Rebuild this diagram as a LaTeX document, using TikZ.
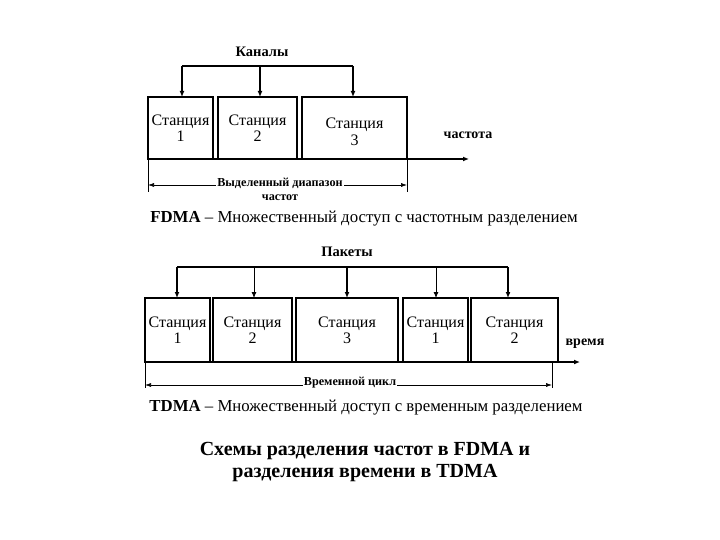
\documentclass[tikz,border=0pt]{standalone}
\usepackage{fontspec}
\setmainfont{Liberation Serif}
\usetikzlibrary{arrows.meta}
\begin{document}
\begin{tikzpicture}[x=1pt,y=-1pt,
  box/.style={draw,line width=1.6pt,inner sep=0pt,outer sep=0pt,align=center,font=\fontsize{16}{16}\selectfont},
  lbl/.style={font=\bfseries\fontsize{14.5}{16}\selectfont,inner sep=1pt},
  axl/.style={font=\bfseries\fontsize{14}{16}\selectfont,inner sep=1pt},
  rlbl/.style={fill=white,align=center,font=\bfseries\fontsize{12.2}{14}\selectfont,inner sep=1pt},
  arr/.style={line width=1.2pt,-{Latex[length=6pt,width=5pt]}},
  base/.style={line width=1.6pt,-{Latex[length=6pt,width=5pt]}},
  rng/.style={line width=0.6pt,{Latex[length=6pt,width=4pt]}-{Latex[length=6pt,width=4pt]}},
  tick/.style={line width=0.6pt}]
\useasboundingbox (0,0) rectangle (720,540);
% ---------- FDMA ----------
\node[lbl] (kan) at (262,52) {Каналы};
\node[box,minimum width=65pt,minimum height=62pt] (f1) at (180.5,128) {Станция\\1};
\node[box,minimum width=79pt,minimum height=62pt] (f2) at (257.5,128) {Станция\\2};
\node[box,minimum width=105pt,minimum height=62pt] (f3) at (354.5,128) {};
\node[align=center,font=\fontsize{16}{17}\selectfont,inner sep=0pt] (f3t) at (354.5,132) {Станция\\3};
\coordinate (k1) at (182,66);
\coordinate (k3) at (353,66);
\coordinate (k2) at (260,66);
\draw[line width=1.2pt] (k1) -- (k3);
\draw[arr] (k1) -- (k1 |- f1.north);
\draw[arr] (k2) -- (k2 |- f2.north);
\draw[arr] (k3) -- (k3 |- f3.north);
\coordinate (fend) at (469,159);
\draw[base] (f1.south west) -- (fend);
\node[axl] (chast) at (468,135) {частота};
\coordinate (fl) at (148,192);
\coordinate (fr) at (407,192);
\draw[tick] (f1.south west) -- (fl);
\draw[tick] (f3.south east) -- (fr);
\draw[rng] (148,185) -- (407,185);
\node[rlbl,anchor=north] (vyd) at (280,177) {Выделенный диапазон\\частот};
\node[font=\fontsize{16.8}{18}\selectfont] (fcap) at (364,219) {\textbf{FDMA} – Множественный доступ с частотным разделением};
% ---------- TDMA ----------
\node[lbl] (pak) at (347,252) {Пакеты};
\node[box,minimum width=65pt,minimum height=64pt] (t1) at (177.5,330) {Станция\\1};
\node[box,minimum width=79pt,minimum height=64pt] (t2) at (252.5,330) {Станция\\2};
\node[box,minimum width=102pt,minimum height=64pt] (t3) at (347,330) {Станция\\3};
\node[box,minimum width=65pt,minimum height=64pt] (t4) at (435.5,330) {Станция\\1};
\node[box,minimum width=87pt,minimum height=64pt] (t5) at (514.5,330) {Станция\\2};
\coordinate (p1) at (177,267);
\coordinate (p2) at (254,267);
\coordinate (p3) at (347,267);
\coordinate (p4) at (436,267);
\coordinate (p5) at (508,267);
\draw[line width=1.2pt] (p1) -- (p5);
\draw[arr] (p1) -- (p1 |- t1.north);
\draw[arr,line width=0.8pt] (p2) -- (p2 |- t2.north);
\draw[arr] (p3) -- (p3 |- t3.north);
\draw[arr,line width=0.8pt] (p4) -- (p4 |- t4.north);
\draw[arr] (p5) -- (p5 |- t5.north);
\coordinate (tend) at (580,362);
\draw[base] (t1.south west) -- (tend);
\node[axl] (vrem) at (585,344) {время};
\coordinate (tl) at (145,388);
\coordinate (tr) at (552,388);
\coordinate (trt) at (552,362);
\draw[tick] (t1.south west) -- (tl);
\draw[tick] (trt) -- (tr);
\draw[rng] (145,385) -- (552,385);
\node[rlbl] (cyc) at (350,383) {Временной цикл};
\node[font=\fontsize{16.8}{18}\selectfont] (tcap) at (366,408) {\textbf{TDMA} – Множественный доступ с временным разделением};
% ---------- Title ----------
\node[font=\bfseries\fontsize{20}{21.5}\selectfont,align=center] (title) at (365,462) {Схемы разделения частот в FDMA и\\разделения времени в TDMA};
\end{tikzpicture}
\end{document}
